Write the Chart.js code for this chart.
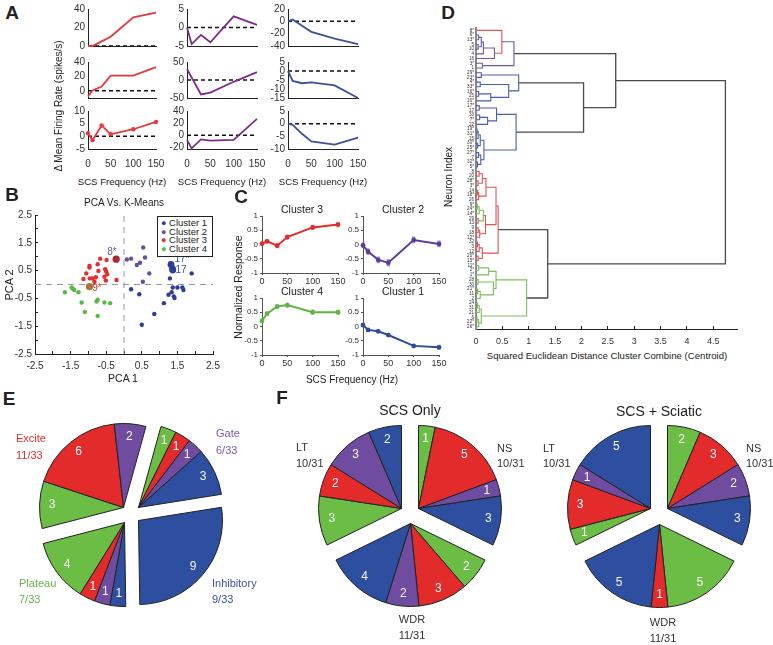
<!DOCTYPE html>
<html>
<head>
<meta charset="utf-8">
<script src="https://cdn.jsdelivr.net/npm/chart.js"></script>
<style>
  body { margin: 0; background: #fff; }
  #fig { position: relative; width: 773px; height: 645px; overflow: hidden; font-family: "Liberation Sans", Arial, sans-serif; color: #222; }
  #fig canvas { position: absolute; }
  .t { position: absolute; white-space: nowrap; line-height: 1; }
  .legend { position: absolute; border: 1.5px solid #222; background: #fff; font-size: 9.5px; line-height: 8.6px; padding: 2px 3px; box-sizing: border-box; }
</style>
</head>
<body>
<div id="fig"></div>
<script>
// ---- data -------------------------------------------------------------
const freqs = [0, 10, 30, 50, 100, 150];
const freqTicks = [0, 50, 100, 150];

// A: example neurons, change in mean firing rate (spikes/s)
const exciteA = [[0, 0, 5, 10, 31, 36], [-8, 0.5, 6, 21, 21, 33], [1.2, -1.5, 4.3, 0.8, 2.8, 5.7]];
const gateA = [[0, -4.5, -2, -4, 3, 0.7], [30, 7, -40, -35, -5, 22], [-8, -22, -7, -9, -8, 27]];
const inhibA = [[0, 3, -7, -17, -28, -37], [0, -5.5, -6.8, -6.3, -8, -15], [0, -0.5, -4, -7, -8.3, -5.5]];
const limitsA = [[[0, 40], [-10, 40], [-5, 10]], [[-5, 5], [-50, 50], [-23, 40]], [[-40, 20], [-15, 5], [-10, 5]]];
const yTicksA = [
  [[0, 20, 40], [0, 20, 40], [-5, 0, 5, 10]],
  [[-5, 0, 5], [-50, 0, 50], [-20, 0, 20, 40]],
  [[-40, -20, 0, 20], [-15, -10, -5, 0, 5], [-10, -5, 0, 5]]
];

// B: PCA scores by k-means cluster
const pcaCluster1 = [[1.29, 0.22], [1.9, 0.4], [1.37, -0.11], [1.5, -0.11], [1.64, -0.11], [1.67, -0.2], [1.34, -0.28], [1.25, -0.37],
  [1.4, -0.43], [1.42, -0.49], [1.12, -0.67], [0.85, -1.06], [0.5, -1.45], [0.2, -0.17], [0.43, -0.35]];
const pcaCluster2 = [[0.08, 0.9], [0.2, 0.93], [0.54, 1.33], [0.59, 0.97], [0.45, 0.78], [0.36, 0.7], [0.71, 0.4], [0.53, 0.1]];
const pcaCluster3 = [[-0.67, 0.93], [-0.97, 0.67], [-0.97, 0.61], [-0.74, 0.73], [-0.49, 0.88], [-1.06, 0.4], [-0.72, 0.49], [-0.53, 0.55],
  [-0.5, 0.47], [-0.47, 0.37], [-1.14, 0.2], [-0.96, 0.22], [-0.88, 0.22], [-0.79, 0.26], [-0.55, 0.28], [-0.51, 0.14], [-0.21, 0.16], [-0.83, 0.1]];
const pcaCluster4 = [[-1.47, -0.11], [-1.4, -0.2], [-1.66, -0.28], [-1.28, -0.28], [-1.19, -0.65], [-0.77, -0.61], [-0.74, -0.55],
  [-0.55, -0.65], [-0.39, -0.67], [-1.1, -0.99], [-0.74, -1.13], [-1.44, -0.15]];
const pcaMarked17 = [[1.32, 0.72], [1.36, 0.57], [1.37, 0.52]];
const pcaMarked8 = [[-0.22, 0.91]];
const pcaMarked9 = [[-0.97, -0.08]];
const pcaTicks = [-2.5, -2, -1.5, -1, -0.5, 0, 0.5, 1, 1.5, 2, 2.5];

// C: normalized response per cluster (mean, sem)
const respCluster3 = [0.03, 0.11, -0.04, 0.26, 0.6, 0.7];
const semCluster3 = [0.06, 0.08, 0.09, 0.09, 0.09, 0.09];
const respCluster2 = [-0.03, -0.25, -0.54, -0.64, 0.16, 0.02];
const semCluster2 = [0.1, 0.12, 0.12, 0.13, 0.12, 0.12];
const respCluster4 = [0.2, 0.45, 0.7, 0.75, 0.5, 0.5];
const semCluster4 = [0.08, 0.08, 0.09, 0.09, 0.1, 0.09];
const respCluster1 = [0.05, -0.12, -0.17, -0.3, -0.68, -0.73];
const semCluster1 = [0.08, 0.07, 0.07, 0.07, 0.07, 0.09];
const respTicks = [-1, -0.5, 0, 0.5, 1];

// D: dendrogram, nodes are [left, right, distance, colour key], leaves are neuron labels
const treePurple = [['8*', [[[['6*', '13*', 0.05, 'P'], ['5', '10', 0.04, 'P'], 0.1, 'P'], '4', 0.14, 'P'], '16', 0.35, 'P'], 0.49, 'R'], ['3*', '1', 0.12, 'P'], 0.72, 'P'];
const treeBlueA = [['29*', '23*', 0.1, 'B'], [['4*', '33*', 0.08, 'B'], [['16*', '25', 0.05, 'B'], '10*', 0.28, 'B'], 0.62, 'B'], 0.81, 'B'];
const treeBlueB = [[['17*', '17', 0.06, 'B'], [['33', '7*', 0.07, 'B'], '22', 0.22, 'B'], 0.39, 'B'],
  [[[['19*', '31*', 0.02, 'B'], '15', 0.04, 'B'], ['30*', '25*', 0.03, 'B'], 0.08, 'B'], [['27*', '7', 0.05, 'B'], ['32*', '5*', 0.03, 'B'], 0.09, 'B'], 0.15, 'B'], 0.76, 'B'];
const treeRed = [[[[['8', '20', 0.06, 'R'], ['28*', '3*', 0.04, 'R'], 0.12, 'R'], [['14', '18*', 0.03, 'R'], '26', 0.05, 'R'], 0.19, 'R'],
  [[[['9*', '24*', 0.03, 'G'], '14*', 0.06, 'G'], ['29', '13', 0.04, 'R'], 0.14, 'G'], [['9', '18', 0.04, 'R'], '12*', 0.07, 'R'], 0.18, 'R'], 0.38, 'R'],
  [[['32', '3', 0.03, 'R'], '12', 0.06, 'R'], ['20*', '15*', 0.04, 'R'], 0.12, 'R'], 0.42, 'R'];
const treeGreen = [[[['11*', '2*', 0.05, 'G'], '1*', 0.24, 'G'], [['28', '30', 0.04, 'G'], [['21*', '11', 0.03, 'G'], '2', 0.08, 'G'], 0.33, 'G'], 0.38, 'G'],
  [[['24', '31', 0.03, 'G'], '21', 0.06, 'G'], [['6', '22*', 0.02, 'G'], '26*', 0.05, 'G'], 0.1, 'G'], 0.96, 'G'];
const dendrogram = [[treePurple, [treeBlueA, treeBlueB, 2.04, 'K'], 2.65, 'K'], [treeRed, treeGreen, 1.36, 'K'], 4.73, 'K'];
const distTicks = [0, 0.5, 1, 1.5, 2, 2.5, 3, 3.5, 4, 4.5];

// E / F: neuron counts, clockwise slices; cluster 1 inhibitory, 2 gate, 3 excite, 4 plateau
const pieECounts = [1, 1, 1, 3, 9, 1, 1, 1, 4, 3, 6, 2];
const pieEClusters = [4, 3, 2, 1, 1, 1, 2, 3, 4, 4, 3, 2];
const pieEGroups = [0, 0, 0, 0, 1, 2, 2, 2, 2, 3, 3, 3]; // Gate, Inhibitory, Plateau, Excite
const pieF1Counts = [1, 5, 1, 3, 2, 3, 2, 4, 3, 2, 3, 2];
const pieF1Clusters = [4, 3, 2, 1, 4, 3, 2, 1, 4, 3, 2, 1];
const pieF1Groups = [0, 0, 0, 0, 1, 1, 1, 1, 2, 2, 2, 2]; // NS, WDR, LT
const pieF2Counts = [2, 3, 2, 3, 5, 1, 5, 1, 3, 1, 5];
const pieF2Clusters = [4, 3, 2, 1, 4, 3, 1, 4, 3, 2, 1];
const pieF2Groups = [0, 0, 0, 0, 1, 1, 1, 2, 2, 2, 2];

// ---- helpers ----------------------------------------------------------
const FONT = '"Liberation Sans", Arial, sans-serif';
const fig = document.getElementById('fig');

function text(str, x, y, o = {}) {
  const d = document.createElement('div');
  d.className = 't';
  d.textContent = str;
  d.style.left = x + 'px';
  d.style.top = y + 'px';
  d.style.fontSize = (o.size || 11) + 'px';
  d.style.color = o.color || '#222';
  if (o.bold) d.style.fontWeight = 'bold';
  const tx = o.align === 'left' ? '0' : o.align === 'right' ? '-100%' : '-50%';
  d.style.transform = 'translate(' + tx + ',-50%)' + (o.rot ? ' rotate(' + o.rot + 'deg)' : '');
  fig.appendChild(d);
}

// tl < 0 gives inward (MATLAB style) tick marks
function axis(min, max, ticks, o) {
  return {
    type: 'linear', min, max, reverse: !!o.reverse,
    afterBuildTicks: s => { s.ticks = ticks.map(v => ({ value: v })); },
    afterFit: s => {
      if (s.isHorizontal()) s.height = o.size; else s.width = o.size;
      s.paddingLeft = s.paddingRight = s.paddingTop = s.paddingBottom = 0;
    },
    grid: { display: true, drawOnChartArea: false, drawTicks: !!o.tl, tickLength: o.tl || 0, color: o.color || '#222' },
    border: { display: true, color: o.color || '#222', width: o.bw || 1 },
    ticks: {
      display: o.labels !== false, autoSkip: false, minRotation: 0, maxRotation: 0,
      padding: o.pad || 0, color: '#333', font: { family: FONT, size: o.fs || 11 },
      callback: o.cb || (v => String(v))
    }
  };
}

function plot(area, xSize, ySize, scales, datasets, padT = 8, padR = 14) {
  const [x0, y0, x1, y1] = area;
  const c = document.createElement('canvas');
  c.width = Math.round(x1 - x0 + ySize + padR);
  c.height = Math.round(y1 - y0 + padT + xSize);
  c.style.left = Math.round(x0 - ySize) + 'px';
  c.style.top = Math.round(y0 - padT) + 'px';
  fig.appendChild(c);
  return new Chart(c, {
    type: 'scatter',
    data: { datasets },
    options: {
      responsive: false, animation: false, events: [],
      layout: { padding: { top: padT, right: padR, left: 0, bottom: 0 } },
      plugins: { legend: { display: false }, tooltip: { enabled: false } },
      scales
    }
  });
}

const xy = (xs, ys) => xs.map((x, i) => ({ x, y: ys[i] }));
const pairs = arr => arr.map(p => ({ x: p[0], y: p[1] }));
const line = (data, color, width, extra = {}) => Object.assign({ data, showLine: true, borderColor: color, borderWidth: width, pointRadius: 0, clip: false }, extra);

// ---- A ----------------------------------------------------------------
const colA = ['#e8363c', '#7d2c88', '#3d4f9e'];
const seriesA = [exciteA, gateA, inhibA];
const colsA = [[88, 156], [187, 257], [288, 358]];
const rowsA = [[8.5, 45.5], [61.5, 97], [111, 148.5]];
seriesA.forEach((col, c) => col.forEach((vals, r) => {
  const last = r === 2;
  const lim = limitsA[c][r];
  plot([colsA[c][0], rowsA[r][0], colsA[c][1], rowsA[r][1]], last ? 24 : 3, 40, {
    x: axis(0, 150, freqTicks, { size: last ? 24 : 3, labels: last, pad: 9, fs: 10 }),
    y: axis(lim[0], lim[1], yTicksA[c][r], { size: 40, pad: 3, fs: 10 })
  }, [
    line(xy(freqs, vals), colA[c], 1.8, c === 0 && r === 2 ? { pointRadius: 2.2, pointBackgroundColor: colA[c], pointBorderWidth: 0 } : {}),
    line([{ x: 0, y: 0 }, { x: 150, y: 0 }], '#111', 1.5, { borderDash: [4, 3] })
  ]);
}));
text('A', 12, 12, { size: 19, bold: true });
text('\u0394 Mean Firing Rate (spikes/s)', 59, 106, { size: 10, rot: -90 });
colsA.forEach(c => text('SCS Frequency (Hz)', (c[0] + c[1]) / 2, 182, { size: 9.6 }));

// ---- B ----------------------------------------------------------------
const colB = { 1: '#2c3e99', 2: '#6a4ca0', 3: '#e3302f', 4: '#5cb848' };
const oddHalf = v => (Math.round(v * 2) % 2 !== 0 ? String(v) : '');
const dot = (data, color, r) => ({ data: pairs(data), backgroundColor: color, borderWidth: 0, pointRadius: r });
plot([35, 215, 213, 354], 20, 35, {
  x: axis(-2.5, 2.5, pcaTicks, { size: 20, tl: -3, pad: 9, fs: 10, cb: oddHalf }),
  y: axis(-2.5, 2.5, pcaTicks, { size: 35, tl: -3, pad: 6, fs: 10, cb: oddHalf })
}, [
  dot(pcaMarked8, '#b0262d', 3.6),
  dot(pcaMarked9, '#a07a3c', 3.6),
  dot(pcaMarked17, colB[1], 3.4),
  dot(pcaCluster1, colB[1], 2.2),
  dot(pcaCluster2, colB[2], 2.2),
  dot(pcaCluster3, colB[3], 2.2),
  dot(pcaCluster4, colB[4], 2.2),
  line([{ x: 0, y: -2.5 }, { x: 0, y: 2.5 }], '#999', 1, { borderDash: [6, 5] }),
  line([{ x: -2.5, y: 0 }, { x: 2.5, y: 0 }], '#999', 1, { borderDash: [6, 5] })
], 8, 14);
text('B', 12, 194, { size: 19, bold: true });
text('PCA Vs. K-Means', 124, 203, { size: 10 });
text('PCA 1', 123, 378, { size: 10.5 });
text('PCA 2', 9, 285, { size: 11, rot: -90 });
text('8*', 112, 252, { size: 10, color: '#6a5aa8' });
text('9*', 97, 288, { size: 10, color: '#e3302f' });
text('17*', 182, 259, { size: 10, color: '#3d4f9e' });
text('17', 181, 270, { size: 10, color: '#3d4f9e' });
const lg = document.createElement('div');
lg.className = 'legend';
Object.assign(lg.style, { left: '157px', top: '216px', width: '56px', height: '41px' });
lg.innerHTML = [1, 2, 3, 4].map(k => '<div><span style="color:' + colB[k] + ';font-size:9px">\u25CF</span> Cluster ' + k + '</div>').join('');
fig.appendChild(lg);

// ---- C ----------------------------------------------------------------
const panelsC = [
  { title: 'Cluster 3', resp: respCluster3, sem: semCluster3, col: '#e22b2b', err: 'rgba(226,43,43,0.55)', area: [262, 216, 338, 273] },
  { title: 'Cluster 2', resp: respCluster2, sem: semCluster2, col: '#5b3e9c', err: 'rgba(91,62,156,0.55)', area: [363, 216, 439, 273] },
  { title: 'Cluster 4', resp: respCluster4, sem: semCluster4, col: '#62b544', err: 'rgba(98,181,68,0.55)', area: [262, 298, 338, 355] },
  { title: 'Cluster 1', resp: respCluster1, sem: semCluster1, col: '#2f4aa0', err: 'rgba(47,74,160,0.55)', area: [363, 298, 439, 355] }
];
panelsC.forEach(p => {
  const bars = [];
  freqs.forEach((f, i) => {
    bars.push({ x: f, y: p.resp[i] - p.sem[i] }, { x: f, y: p.resp[i] + p.sem[i] }, { x: f, y: null });
  });
  plot(p.area, 12, 27, {
    x: axis(0, 150, freqTicks, { size: 12, tl: 2, pad: 1, fs: 9, color: '#555' }),
    y: axis(-1, 1, respTicks, { size: 27, tl: 2, pad: 2, fs: 8, color: '#555' })
  }, [
    line(xy(freqs, p.resp), p.col, 2, { pointRadius: 2.4, pointBackgroundColor: p.col, pointBorderWidth: 0 }),
    line(bars, p.err, 3.2, { spanGaps: false })
  ], 8, 14);
  text(p.title, (p.area[0] + p.area[2]) / 2 + 2, p.area[1] - 7, { size: 10.5 });
});
text('C', 241, 196, { size: 19, bold: true });
text('Normalized Response', 238, 287, { size: 10.5, rot: -90 });
text('SCS Frequency (Hz)', 352, 380, { size: 10 });

// ---- D ----------------------------------------------------------------
const colD = { P: '#6d58a3', B: '#4a5fa8', R: '#e05555', G: '#7cbf59', K: '#4a4a4a' };
const leafLabels = [];
const links = [];
(function walk(node) {
  if (typeof node === 'string') { leafLabels.push(node); return { y: leafLabels.length - 1, h: 0 }; }
  const a = walk(node[0]), b = walk(node[1]);
  links.push({ pts: [{ x: a.h, y: a.y }, { x: node[2], y: a.y }, { x: node[2], y: b.y }, { x: b.h, y: b.y }], col: node[3] });
  return { y: (a.y + b.y) / 2, h: node[2] };
})(dendrogram);
const leafIdx = leafLabels.map((_, i) => i);
plot([476, 27.7, 737, 329], 16, 16, {
  x: axis(0, 4.95, distTicks, { size: 16, tl: -3, pad: 10, fs: 9 }),
  y: axis(-0.5, leafLabels.length - 0.5, leafIdx, { size: 16, pad: 2, fs: 4.6, reverse: true, color: '#8a8a8a', bw: 2, cb: v => leafLabels[v] })
}, links.map(l => line(l.pts, colD[l.col], l.col === 'K' ? 1.3 : 1.1)), 6, 20);
text('D', 448, 12, { size: 19, bold: true });
text('Neuron Index', 449, 177, { size: 10, rot: -90 });
text('Squared Euclidean Distance Cluster Combine (Centroid)', 607, 356, { size: 9.6 });

// ---- E / F pies -------------------------------------------------------
const colPie = { 1: '#2e4e9f', 2: '#6f4c9f', 3: '#e32b2b', 4: '#6cbd45' };
function sliceLabels(groups, show) {
  return {
    id: 'sliceLabels',
    afterDatasetsDraw(chart) {
      const ctx = chart.ctx;
      const vals = chart.data.datasets[0].data;
      ctx.save();
      ctx.fillStyle = '#f7f7f7';
      ctx.font = '12px ' + FONT;
      ctx.textAlign = 'center';
      ctx.textBaseline = 'middle';
      chart.getDatasetMeta(0).data.forEach((arc, i) => {
        if (groups[i] !== show) return;
        const p = arc.getProps(['x', 'y', 'startAngle', 'endAngle', 'outerRadius']);
        const a = (p.startAngle + p.endAngle) / 2, r = p.outerRadius * 0.85;
        ctx.fillText(String(vals[i]), p.x + Math.cos(a) * r, p.y + Math.sin(a) * r);
      });
      ctx.restore();
    }
  };
}
function explodedPie(counts, clusters, groups, cx, cy, R, rot, off) {
  const total = counts.reduce((s, v) => s + v, 0);
  const nG = Math.max(...groups) + 1;
  const S = 2 * R + 1;
  for (let g = 0; g < nG; g++) {
    let before = 0, span = 0;
    counts.forEach((v, i) => { if (groups[i] < g) before += v; if (groups[i] === g) span += v; });
    const mid = (rot + (before + span / 2) / total * 360) * Math.PI / 180;
    const c = document.createElement('canvas');
    c.width = S; c.height = S;
    c.style.left = Math.round(cx + Math.sin(mid) * off - S / 2) + 'px';
    c.style.top = Math.round(cy - Math.cos(mid) * off - S / 2) + 'px';
    fig.appendChild(c);
    new Chart(c, {
      type: 'pie',
      data: { datasets: [{
        data: counts,
        backgroundColor: counts.map((v, i) => groups[i] === g ? colPie[clusters[i]] : 'rgba(0,0,0,0)'),
        borderColor: counts.map((v, i) => groups[i] === g ? '#222' : 'rgba(0,0,0,0)'),
        borderWidth: 1, offset: 0, hoverOffset: 0
      }] },
      options: {
        responsive: false, animation: false, events: [], rotation: rot,
        layout: { padding: 0 },
        plugins: { legend: { display: false }, tooltip: { enabled: false } }
      },
      plugins: [sliceLabels(groups, g)]
    });
  }
}
explodedPie(pieECounts, pieEClusters, pieEGroups, 131, 514.5, 84, 15.5, 10);
explodedPie(pieF1Counts, pieF1Clusters, pieF1Groups, 410, 513.5, 83, 0, 10);
explodedPie(pieF2Counts, pieF2Clusters, pieF2Groups, 659, 514, 83, 0, 10);

text('E', 9, 398, { size: 19, bold: true });
text('Excite', 16, 438, { size: 11, align: 'left', color: '#e3302f' });
text('11/33', 16, 455, { size: 11, align: 'left', color: '#e3302f' });
text('Gate', 216, 433, { size: 11, align: 'left', color: '#7a5aa8' });
text('6/33', 216, 450, { size: 11, align: 'left', color: '#7a5aa8' });
text('Plateau', 19, 583, { size: 11, align: 'left', color: '#6ab04c' });
text('7/33', 19, 599, { size: 11, align: 'left', color: '#6ab04c' });
text('Inhibitory', 212, 583, { size: 11, align: 'left', color: '#3a55a0' });
text('9/33', 212, 599, { size: 11, align: 'left', color: '#3a55a0' });

text('F', 282, 397, { size: 19, bold: true });
text('SCS Only', 410, 410, { size: 14 });
text('SCS + Sciatic', 659, 411, { size: 14 });
text('LT', 296, 447, { size: 11, align: 'left', color: '#333' });
text('10/31', 296, 463, { size: 11, align: 'left', color: '#333' });
text('NS', 497, 448, { size: 11, align: 'left', color: '#333' });
text('10/31', 497, 463, { size: 11, align: 'left', color: '#333' });
text('WDR', 412, 619, { size: 11, color: '#333' });
text('11/31', 412, 635, { size: 11, color: '#333' });
text('LT', 543, 448, { size: 11, align: 'left', color: '#333' });
text('10/31', 543, 463, { size: 11, align: 'left', color: '#333' });
text('NS', 746, 448, { size: 11, align: 'left', color: '#333' });
text('10/31', 746, 463, { size: 11, align: 'left', color: '#333' });
text('WDR', 663, 622, { size: 11, color: '#333' });
text('11/31', 663, 638, { size: 11, color: '#333' });
</script>
</body>
</html>
